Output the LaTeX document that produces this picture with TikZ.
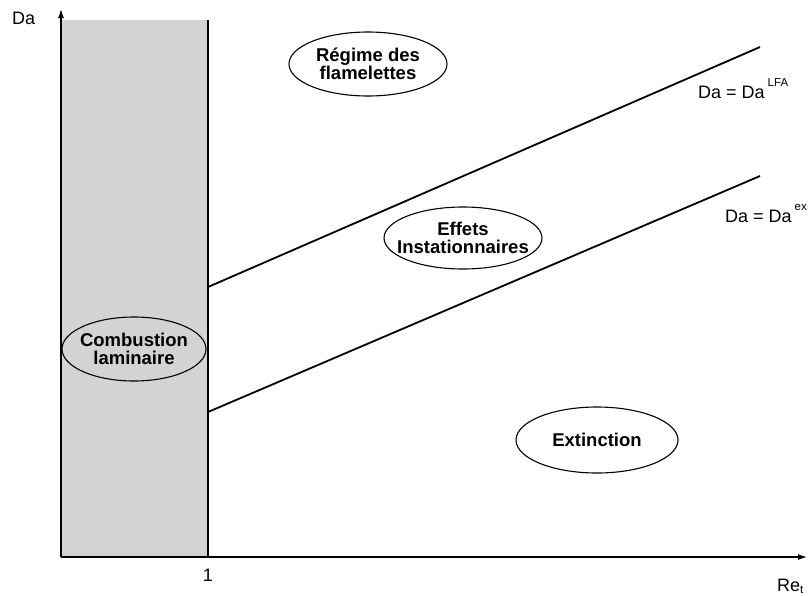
\documentclass[tikz,border=0pt]{standalone}
\usepackage{fontspec}
\setmainfont{Liberation Sans}
\usetikzlibrary{arrows.meta}
\definecolor{zonegray}{RGB}{211,211,212}
\newcommand{\supx}[1]{\hspace{3pt}\raisebox{12pt}{\fontsize{11.5}{12}\selectfont #1}}
\tikzset{
  regtext/.style={inner sep=0pt,align=center,
    font=\fontsize{18.5}{18}\selectfont\bfseries},
  ellborder/.style={draw,line width=1.1pt},
  axis/.style={line width=1.2pt,-{Latex[length=9pt,width=6pt]}},
  regime/.style={line width=1.8pt},
  lab/.style={inner sep=0pt,font=\fontsize{18}{18}\selectfont}
}
\begin{document}
\begin{tikzpicture}[x=1pt,y=-1pt]
\useasboundingbox (0,0) rectangle (808,595);
\fill[zonegray] (61,20) rectangle (208,557);
\coordinate (o) at (61,557);
\coordinate (ytip) at (61,9);
\coordinate (xtip) at (807,557);
\coordinate (vtop) at (208,20);
\coordinate (vbot) at (208,557);
\draw[line width=1.5pt] (vtop) -- (vbot);
\draw[axis] (o) -- (ytip);
\draw[axis] (o) -- (xtip);
\coordinate (a1) at (208,287);
\coordinate (b1) at (760,47);
\coordinate (a2) at (208,412);
\coordinate (b2) at (760,176);
\draw[regime] (a1) -- (b1);
\draw[regime] (a2) -- (b2);
\node[regtext] (flam) at (368,64) {Régime des\\flamelettes};
\draw[ellborder] (flam.center) ellipse [x radius=79pt, y radius=32pt];
\node[regtext] (inst) at (463,238) {Effets\\Instationnaires};
\draw[ellborder] (inst.center) ellipse [x radius=79pt, y radius=31pt];
\node[regtext] (lam) at (134,349) {Combustion\\laminaire};
\draw[ellborder] (lam.center) ellipse [x radius=72pt, y radius=32pt];
\node[regtext] (ext) at (597,440) {Extinction};
\draw[ellborder] (ext.center) ellipse [x radius=81pt, y radius=33pt];
\node[lab,anchor=base west] (da) at (12,24) {Da};
\node[lab,anchor=base] (one) at (208,581) {1};
\node[lab,anchor=base west] (re) at (777,591) {Re\textsubscript{\fontsize{11.5}{12}\selectfont t}};
\node[lab,anchor=base west] (lfa) at (698,98) {Da = Da\supx{LFA}};
\node[lab,anchor=base west] (ex) at (725,222) {Da = Da\supx{ex}};
\end{tikzpicture}
\end{document}
